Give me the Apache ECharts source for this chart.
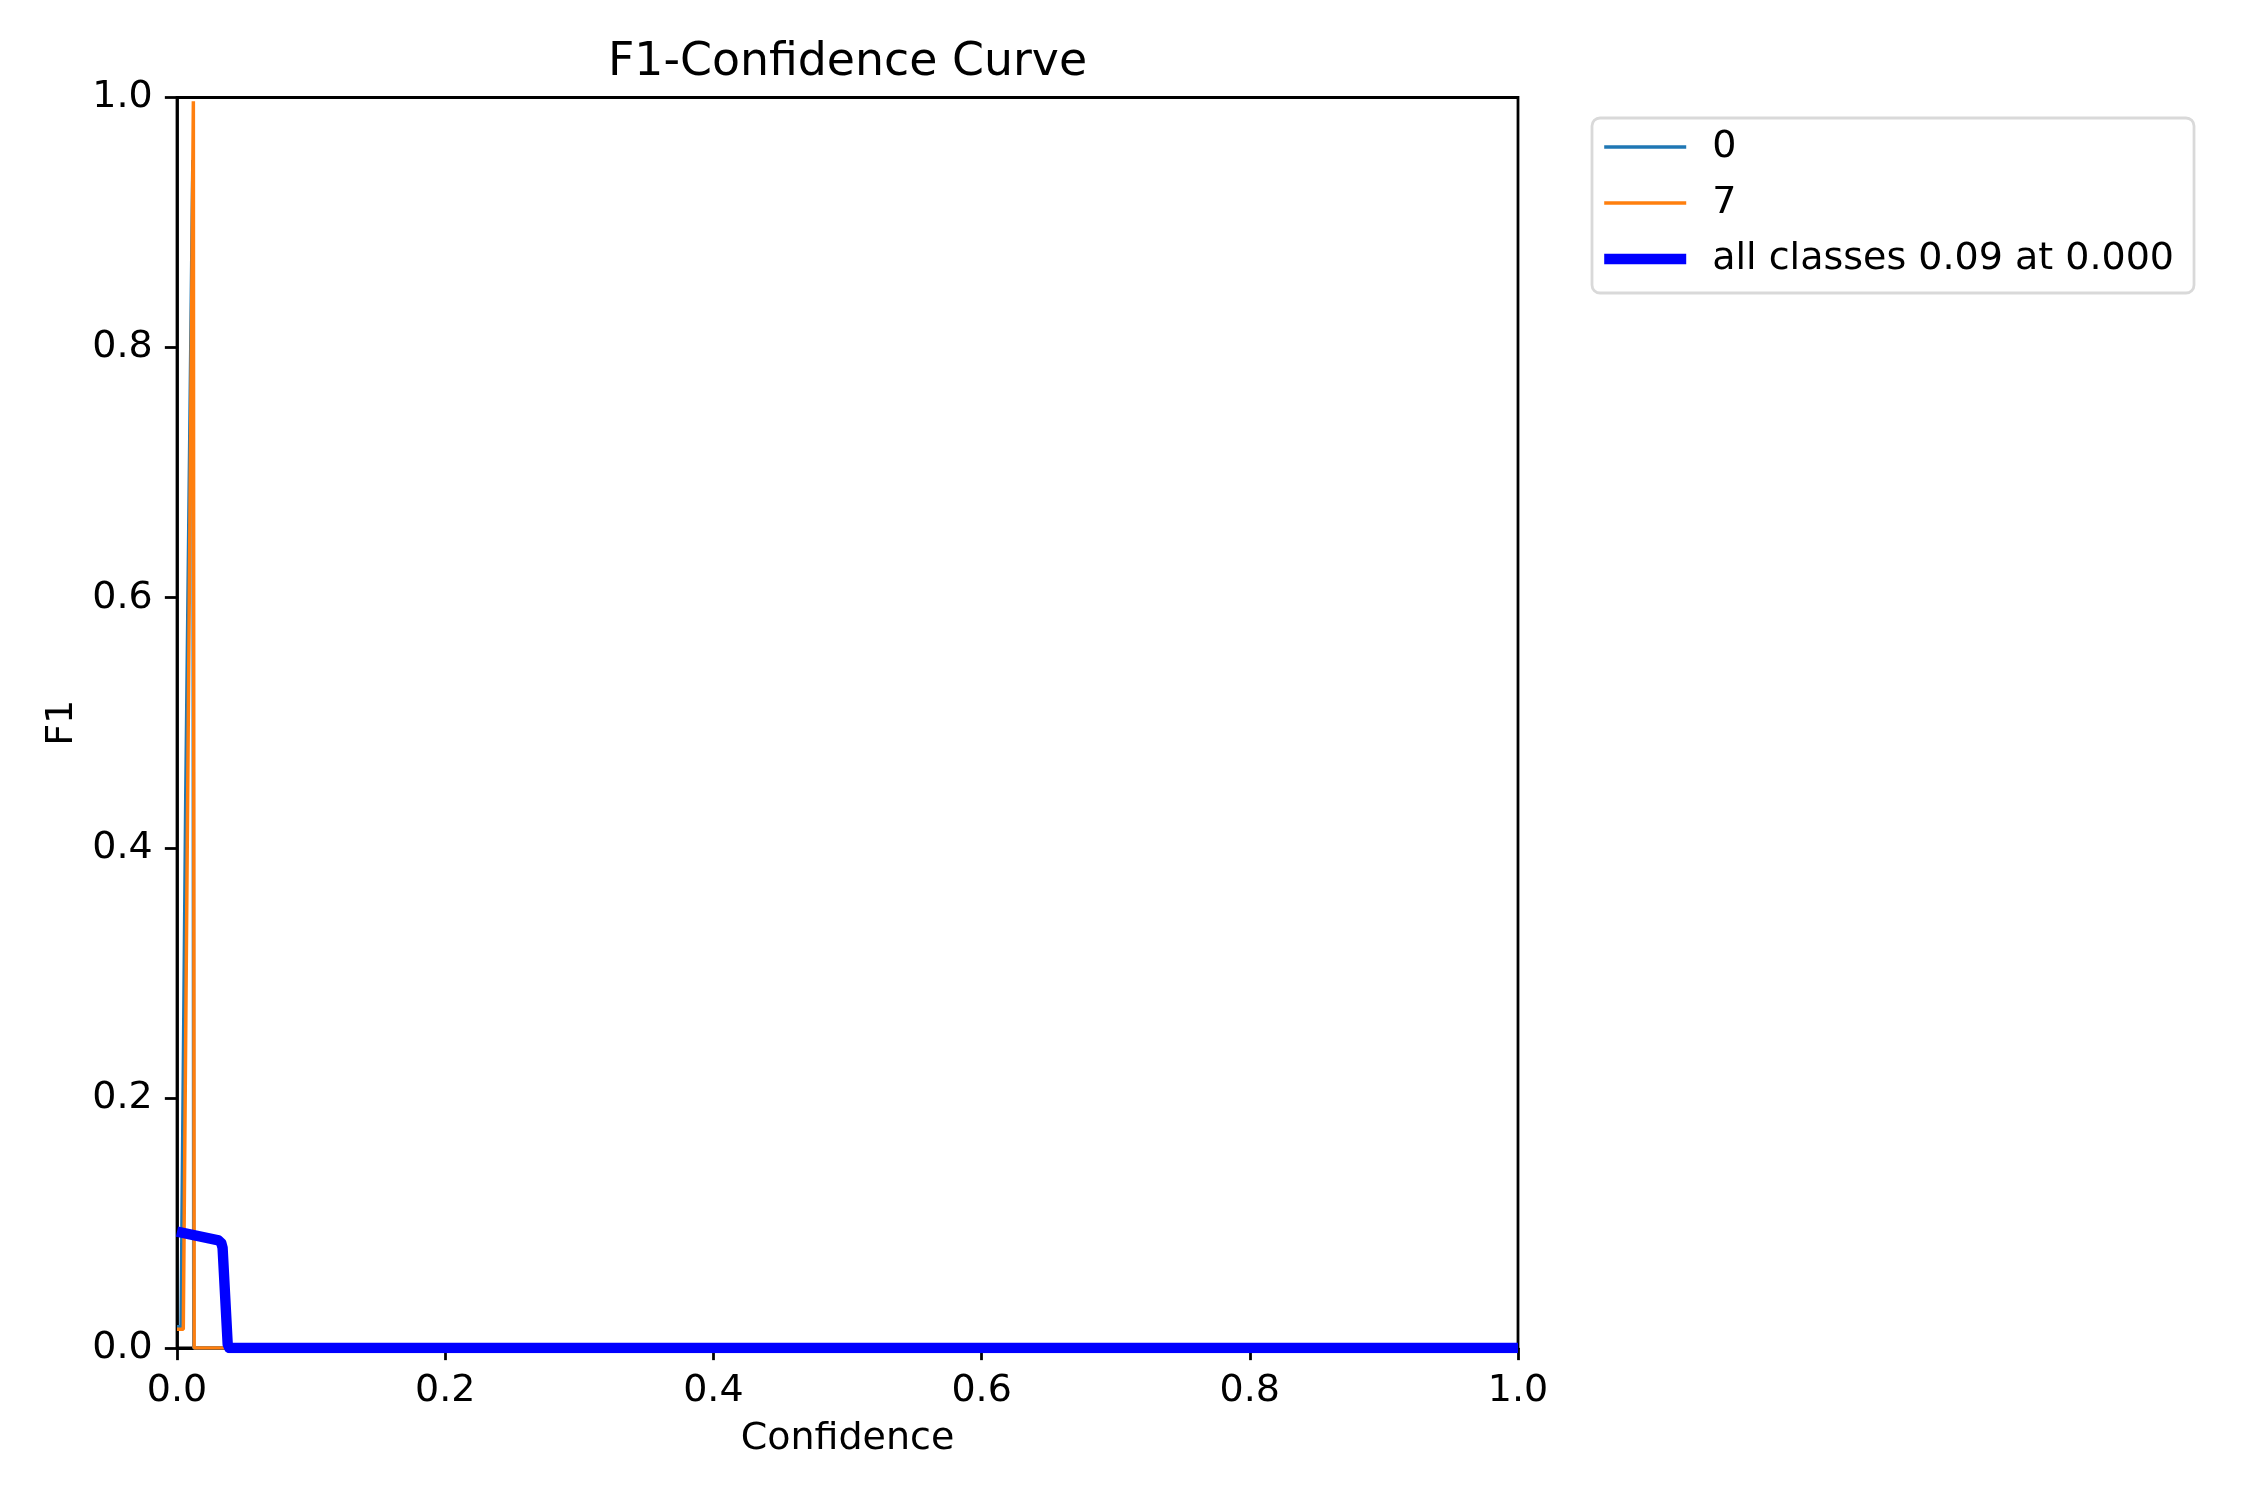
<!DOCTYPE html>
<html>
<head>
<meta charset="utf-8">
<title>F1-Confidence Curve</title>
<script src="https://cdn.jsdelivr.net/npm/echarts@6/dist/echarts.min.js"></script>
<style>
  html, body { margin: 0; padding: 0; background: #fff; }
  #main { width: 2250px; height: 1500px; }
</style>
</head>
<body>
<div id="main"></div>
<script>
// tick labels shared by both axes
const tickLabels = ['0.0', '0.2', '0.4', '0.6', '0.8', '1.0']

// class 0
const class0Conf = [0, 0.003, 0.0065, 0.0118, 0.0125, 1.0]
const class0F1 = [0.017, 0.017, 0.44, 0.95, 0, 0]

// class 7
const class7Conf = [0, 0.0047, 0.0122, 0.0128, 1.0]
const class7F1 = [0.015, 0.015, 0.997, 0, 0]

// all classes (smoothed mean)
const allConf = [0, 0.031, 0.033, 0.034, 0.0378, 0.039, 1.0]
const allF1 = [0.093, 0.086, 0.084, 0.08, 0.003, 0, 0]

const legendNames = ['0', '7', 'all classes 0.09 at 0.000']

function pairs(xs, ys) {
    return xs.map(function (x, i) { return [x, ys[i]] })
}

const font = 'DejaVu Sans'
const lw = 250 / 72      // matplotlib points -> pixels
const fs = 38            // 10pt text as it appears in the picture
const titleFs = 45.8

let myChart = echarts.init(document.getElementById('main'), null, {renderer: 'canvas'})

function axisCommon() {
    return {
        type: 'value',
        min: 0,
        max: 1,
        interval: 0.2,
        axisLine: {show: true, onZero: false, lineStyle: {color: '#000', width: 0.8 * lw}},
        axisTick: {show: true, inside: false, length: 3.5 * lw, lineStyle: {color: '#000', width: 0.8 * lw}},
        axisLabel: {
            margin: 7 * lw,
            color: '#000',
            fontFamily: font,
            fontSize: fs,
            formatter: function (v) { return tickLabels[Math.round(v / 0.2)] }
        },
        splitLine: {show: false},
        nameTextStyle: {color: '#000', fontFamily: font, fontSize: fs}
    }
}

let xAxis = axisCommon()
xAxis.name = 'Confidence'
xAxis.nameLocation = 'middle'
xAxis.nameGap = 72

let yAxis = axisCommon()
yAxis.name = 'F1'
yAxis.nameLocation = 'middle'
yAxis.nameGap = 95

let option = {
    backgroundColor: '#fff',
    animation: false,
    title: {
        text: 'F1-Confidence Curve',
        left: 842.5,
        top: 35,
        textAlign: 'center',
        textStyle: {color: '#000', fontFamily: font, fontSize: titleFs, fontWeight: 'normal'}
    },
    grid: {
        left: 177,
        top: 97.5,
        width: 1341,
        height: 1250.5,
        show: true,
        borderColor: '#000',
        borderWidth: 0.8 * lw,
        backgroundColor: 'transparent'
    },
    legend: {
        left: 1592,
        top: 118,
        orient: 'vertical',
        itemWidth: 82,
        itemHeight: 20,
        itemGap: 16,
        padding: [9, 20, 14, 7],
        borderColor: '#d9d9d9',
        borderWidth: 0.8 * lw,
        borderRadius: 8,
        backgroundColor: '#fff',
        textStyle: {color: '#000', fontFamily: font, fontSize: fs, lineHeight: 40, padding: [0, 0, 0, 21]},
        data: [
            {name: legendNames[0], lineStyle: {width: 1 * lw}, itemStyle: {opacity: 0}},
            {name: legendNames[1], lineStyle: {width: 1 * lw}, itemStyle: {opacity: 0}},
            {name: legendNames[2], lineStyle: {width: 3 * lw}, itemStyle: {opacity: 0}}
        ]
    },
    xAxis: xAxis,
    yAxis: yAxis,
    series: [
        {
            name: legendNames[0],
            type: 'line',
            symbol: 'none',
            data: pairs(class0Conf, class0F1),
            lineStyle: {color: '#1f77b4', width: 1 * lw},
            itemStyle: {color: '#1f77b4'},
            clip: true
        },
        {
            name: legendNames[1],
            type: 'line',
            symbol: 'none',
            data: pairs(class7Conf, class7F1),
            lineStyle: {color: '#ff7f0e', width: 1 * lw},
            itemStyle: {color: '#ff7f0e'},
            clip: true
        },
        {
            name: legendNames[2],
            type: 'line',
            symbol: 'none',
            data: pairs(allConf, allF1),
            lineStyle: {color: '#0000ff', width: 3 * lw, join: 'round'},
            itemStyle: {color: '#0000ff'},
            clip: true
        }
    ]
}

myChart.setOption(option)
</script>
</body>
</html>
